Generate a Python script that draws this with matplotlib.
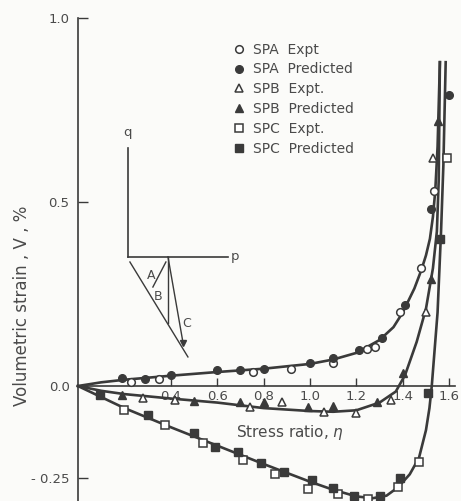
import numpy as np
import matplotlib
matplotlib.use("Agg")
import matplotlib.pyplot as plt

# ── Data ─────────────────────────────────────────────────────────────────────

# fitted curves: stress ratio eta vs volumetric strain V (%)
SPA_CURVE_X = [0.0, 0.1, 0.2, 0.4, 0.6, 0.8, 1.0, 1.1, 1.2, 1.3, 1.36, 1.4, 1.45, 1.48, 1.50, 1.517, 1.53, 1.54, 1.55, 1.56]
SPA_CURVE_Y = [0.0, 0.010, 0.017, 0.028, 0.038, 0.047, 0.060, 0.072, 0.090, 0.125, 0.160, 0.200, 0.265, 0.315, 0.355, 0.400, 0.460, 0.530, 0.650, 0.880]

SPB_CURVE_X = [0.0, 0.1, 0.2, 0.4, 0.6, 0.8, 1.0, 1.1, 1.2, 1.3, 1.37, 1.41, 1.46, 1.50, 1.53, 1.547, 1.555, 1.56]
SPB_CURVE_Y = [0.0, -0.013, -0.022, -0.034, -0.045, -0.060, -0.068, -0.070, -0.066, -0.045, -0.015, 0.030, 0.120, 0.210, 0.320, 0.420, 0.560, 0.880]

SPC_CURVE_X = [0.0, 0.2, 0.4, 0.6, 0.8, 1.0, 1.1, 1.2, 1.27, 1.33, 1.38, 1.43, 1.47, 1.50, 1.515, 1.525, 1.55, 1.565, 1.575, 1.585]
SPC_CURVE_Y = [0.0, -0.060, -0.112, -0.162, -0.212, -0.260, -0.282, -0.300, -0.305, -0.298, -0.275, -0.240, -0.195, -0.120, -0.060, 0.0, 0.200, 0.420, 0.600, 0.880]

# measured / predicted points
SPA_EXPT_X = [0.23, 0.35, 0.755, 0.92, 1.10, 1.245, 1.28, 1.39, 1.48, 1.535]
SPA_EXPT_Y = [0.011, 0.020, 0.038, 0.045, 0.062, 0.100, 0.106, 0.200, 0.320, 0.530]
SPA_PRED_X = [0.19, 0.29, 0.40, 0.60, 0.70, 0.80, 1.00, 1.10, 1.21, 1.31, 1.41, 1.52, 1.60]
SPA_PRED_Y = [0.022, 0.020, 0.030, 0.043, 0.043, 0.045, 0.062, 0.076, 0.098, 0.130, 0.220, 0.480, 0.790]

SPB_EXPT_X = [0.28, 0.42, 0.74, 0.88, 1.06, 1.20, 1.35, 1.50, 1.53]
SPB_EXPT_Y = [-0.033, -0.038, -0.057, -0.043, -0.070, -0.074, -0.038, 0.200, 0.620]
SPB_PRED_X = [0.19, 0.50, 0.70, 0.80, 0.99, 1.10, 1.29, 1.40, 1.52, 1.55]
SPB_PRED_Y = [-0.024, -0.040, -0.043, -0.043, -0.057, -0.054, -0.043, 0.035, 0.290, 0.720]

SPC_EXPT_X = [0.20, 0.375, 0.54, 0.71, 0.85, 0.99, 1.12, 1.25, 1.38, 1.47, 1.59]
SPC_EXPT_Y = [-0.065, -0.106, -0.155, -0.200, -0.240, -0.280, -0.294, -0.307, -0.275, -0.206, 0.620]
SPC_PRED_X = [0.095, 0.30, 0.50, 0.59, 0.69, 0.79, 0.89, 1.01, 1.10, 1.19, 1.30, 1.39, 1.51, 1.56]
SPC_PRED_Y = [-0.025, -0.079, -0.128, -0.165, -0.178, -0.210, -0.233, -0.255, -0.277, -0.300, -0.300, -0.250, -0.020, 0.400]

X_TICKS = [0.4, 0.6, 0.8, 1.0, 1.2, 1.4, 1.6]
X_TICK_LABELS = ["0.4", "0.6", "0.8", "1.0", "1.2", "1.4", "1.6"]
Y_TICKS = [1.0, 0.5, 0.0, -0.25]
Y_TICK_LABELS = ["1.0", "0.5", "0.0", "- 0.25"]

LEGEND_LABELS = ["SPA  Expt", "SPA  Predicted", "SPB  Expt.", "SPB  Predicted",
                 "SPC  Expt.", "SPC  Predicted"]

# ── Style ────────────────────────────────────────────────────────────────────

INK = "#3a3a3a"
TXT = "#4a4a4a"
BG = "#fbfbf9"

fig = plt.figure(figsize=(4.61, 5.01), dpi=100, facecolor=BG)
ax = fig.add_axes([0, 0, 1, 1], facecolor=BG)
ax.set_xlim(-0.336, 1.651)
ax.set_ylim(-0.3125, 1.049)

for s in ["top", "right"]:
    ax.spines[s].set_visible(False)
ax.spines["left"].set_position(("data", 0))
ax.spines["bottom"].set_position(("data", 0))
ax.spines["left"].set_bounds(-0.3125, 1.0)
ax.spines["bottom"].set_bounds(0, 1.625)
for s in ["left", "bottom"]:
    ax.spines[s].set_color(INK)
    ax.spines[s].set_linewidth(1.2)

ax.set_xticks(X_TICKS)
ax.set_xticklabels(X_TICK_LABELS)
ax.set_yticks(Y_TICKS)
ax.set_yticklabels(Y_TICK_LABELS)
ax.tick_params(axis="x", direction="in", length=6, width=1, color=INK,
               labelsize=9.5, labelcolor=TXT, pad=3)
ax.tick_params(axis="y", direction="in", length=7, width=1, color=INK,
               labelsize=9.5, labelcolor=TXT, pad=6)

# ── Curves ───────────────────────────────────────────────────────────────────

lw = 1.9
ax.plot(SPA_CURVE_X, SPA_CURVE_Y, color=INK, lw=lw, zorder=2)
ax.plot(SPB_CURVE_X, SPB_CURVE_Y, color=INK, lw=lw, zorder=2)
ax.plot(SPC_CURVE_X, SPC_CURVE_Y, color=INK, lw=lw, zorder=2)

ms = 5.5
open_kw = dict(ls="none", mfc="white", mec=INK, mew=1.1, zorder=3)
fill_kw = dict(ls="none", mfc=INK, mec=INK, mew=1.0, zorder=3)

h1, = ax.plot(SPA_EXPT_X, SPA_EXPT_Y, "o", ms=ms, **open_kw)
h2, = ax.plot(SPA_PRED_X, SPA_PRED_Y, "o", ms=ms, **fill_kw)
h3, = ax.plot(SPB_EXPT_X, SPB_EXPT_Y, "^", ms=ms, **open_kw)
h4, = ax.plot(SPB_PRED_X, SPB_PRED_Y, "^", ms=ms, **fill_kw)
h5, = ax.plot(SPC_EXPT_X, SPC_EXPT_Y, "s", ms=ms, **open_kw)
h6, = ax.plot(SPC_PRED_X, SPC_PRED_Y, "s", ms=ms, **fill_kw)

leg = ax.legend([h1, h2, h3, h4, h5, h6], LEGEND_LABELS,
                loc="upper left", bbox_to_anchor=(0.48, 0.94),
                frameon=False, fontsize=10, handlelength=0.8,
                handletextpad=0.6, labelspacing=0.42, labelcolor=TXT)

# ── Labels ───────────────────────────────────────────────────────────────────

ax.text(0.914, -0.125, "Stress ratio, $\\eta$", fontsize=11, color=TXT,
        ha="center", va="center")
fig.text(0.048, 0.39, "Volumetric strain , V , %", rotation=90,
         fontsize=12, color=TXT, ha="center", va="center")

# ── Inset stress-path sketch (q-p plane) ─────────────────────────────────────

Q_AXIS = ([0.2155, 0.2155], [0.647, 0.351])
P_AXIS = ([0.2155, 0.647], [0.351, 0.351])
PATH_OUTER = ([0.224, 0.474], [0.337, 0.079])
PATH_VERT = ([0.388, 0.388], [0.351, 0.171])
PATH_C = ([0.388, 0.453], [0.351, 0.117])
PATH_A = ([0.323, 0.379], [0.269, 0.337])

for xs, ys in [Q_AXIS, P_AXIS]:
    ax.plot(xs, ys, color=INK, lw=1.2, zorder=2)
for xs, ys in [PATH_OUTER, PATH_VERT, PATH_C, PATH_A]:
    ax.plot(xs, ys, color=INK, lw=1.0, zorder=2)
ax.plot([0.453], [0.117], marker="v", ms=4, color=INK)

ax.text(0.2155, 0.69, "q", fontsize=9.5, color=TXT, ha="center", va="center")
ax.text(0.675, 0.351, "p", fontsize=9.5, color=TXT, ha="center", va="center")
ax.text(0.315, 0.30, "A", fontsize=9, color=TXT, ha="center", va="center")
ax.text(0.345, 0.242, "B", fontsize=9, color=TXT, ha="center", va="center")
ax.text(0.468, 0.171, "C", fontsize=9, color=TXT, ha="center", va="center")

fig.savefig("out.png", dpi=100, facecolor=BG)
